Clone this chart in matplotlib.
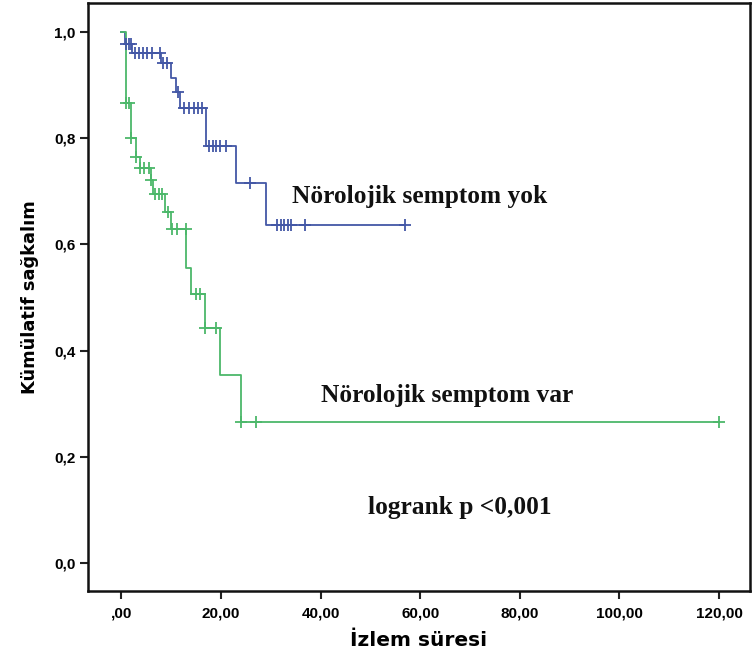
import numpy as np
import matplotlib
matplotlib.use("Agg")
import matplotlib.pyplot as plt

# ---- data ----
blue_times = [0, 0.75, 2.1, 8.0, 9.9, 11.0, 11.8, 17.0, 23.0, 29.0]
blue_surv = [1.0, 0.977, 0.960, 0.941, 0.913, 0.888, 0.858, 0.785, 0.715, 0.636]
blue_end = 57.0
blue_censor = [1.0, 1.5, 2.0, 2.8, 3.6, 4.4, 5.2, 6.1, 7.7, 8.4, 9.1, 11.4, 12.5,
               13.5, 14.5, 15.4, 16.1, 17.5, 18.3, 19.0, 19.8, 21.1, 25.8, 31.2,
               32.0, 32.7, 33.4, 34.0, 36.9, 57.0]

green_times = [0, 1.0, 2.0, 2.9, 3.75, 5.9, 6.4, 8.8, 9.9, 13.0, 14.0, 16.8, 19.9, 24.0]
green_surv = [1.0, 0.867, 0.80, 0.764, 0.744, 0.721, 0.696, 0.661, 0.630, 0.555,
              0.506, 0.442, 0.354, 0.265]
green_end = 120.0
green_censor = [1.0, 1.5, 2.0, 2.9, 3.75, 4.5, 5.5, 5.9, 6.8, 7.5, 8.1, 9.4, 10.2,
                11.1, 12.9, 15.0, 15.8, 16.8, 19.0, 24.0, 27.0, 120.0]

xticks = [0, 20, 40, 60, 80, 100, 120]
xtick_labels = [",00", "20,00", "40,00", "60,00", "80,00", "100,00", "120,00"]
yticks = [0.0, 0.2, 0.4, 0.6, 0.8, 1.0]
ytick_labels = ["0,0", "0,2", "0,4", "0,6", "0,8", "1,0"]

label_yok = "Nörolojik semptom yok"
label_var = "Nörolojik semptom var"
logrank_text = "logrank p <0,001"

BLUE = "#4357a6"
GREEN = "#4cb86a"

fig = plt.figure(figsize=(7.52, 6.66), dpi=100)
ax = fig.add_axes([88 / 752, 1 - 591 / 666, (750 - 88) / 752, (591 - 3) / 666])


def draw_km(times, surv, end, censor, color):
    xs = list(times) + [end]
    ys = list(surv) + [surv[-1]]
    ax.step(xs, ys, where="post", color=color, lw=1.3, zorder=3)
    idx = np.searchsorted(np.array(times), np.array(censor), side="right") - 1
    cy = np.array(surv)[idx]
    ax.plot(censor, cy, ls="none", marker="+", ms=9, mew=1.3, color=color, zorder=4)


draw_km(blue_times, blue_surv, blue_end, blue_censor, BLUE)
draw_km(green_times, green_surv, green_end, green_censor, GREEN)

ax.set_xlim(-6.7, 126.2)
ax.set_ylim(-0.053, 1.055)
ax.set_xticks(xticks)
ax.set_xticklabels(xtick_labels)
ax.set_yticks(yticks)
ax.set_yticklabels(ytick_labels)
for lab in ax.get_xticklabels() + ax.get_yticklabels():
    lab.set_fontfamily("Liberation Sans")
    lab.set_fontweight("bold")
    lab.set_fontsize(11)
ax.tick_params(axis="both", direction="out", length=6, width=1.5, color="#222222")
ax.tick_params(axis="x", pad=5)
ax.tick_params(axis="y", pad=3)
for sp in ax.spines.values():
    sp.set_linewidth(1.8)
    sp.set_color("#111111")

ax.set_xlabel("İzlem süresi", fontfamily="DejaVu Sans", fontweight="bold",
              fontsize=14.5, labelpad=8)
ax.set_ylabel("Kümülatif sağkalım", fontfamily="DejaVu Sans Condensed",
              fontweight="bold", fontsize=12.8, labelpad=11)

serif = dict(fontfamily="Liberation Serif", fontweight="bold", fontsize=18.3, color="#111111")
ax.text(34.3, 0.69, label_yok, ha="left", va="center", **serif)
ax.text(40.0, 0.315, label_var, ha="left", va="center", **serif)
ax.text(49.5, 0.105, logrank_text, ha="left", va="center", **serif)

fig.savefig("out.png", dpi=100)
